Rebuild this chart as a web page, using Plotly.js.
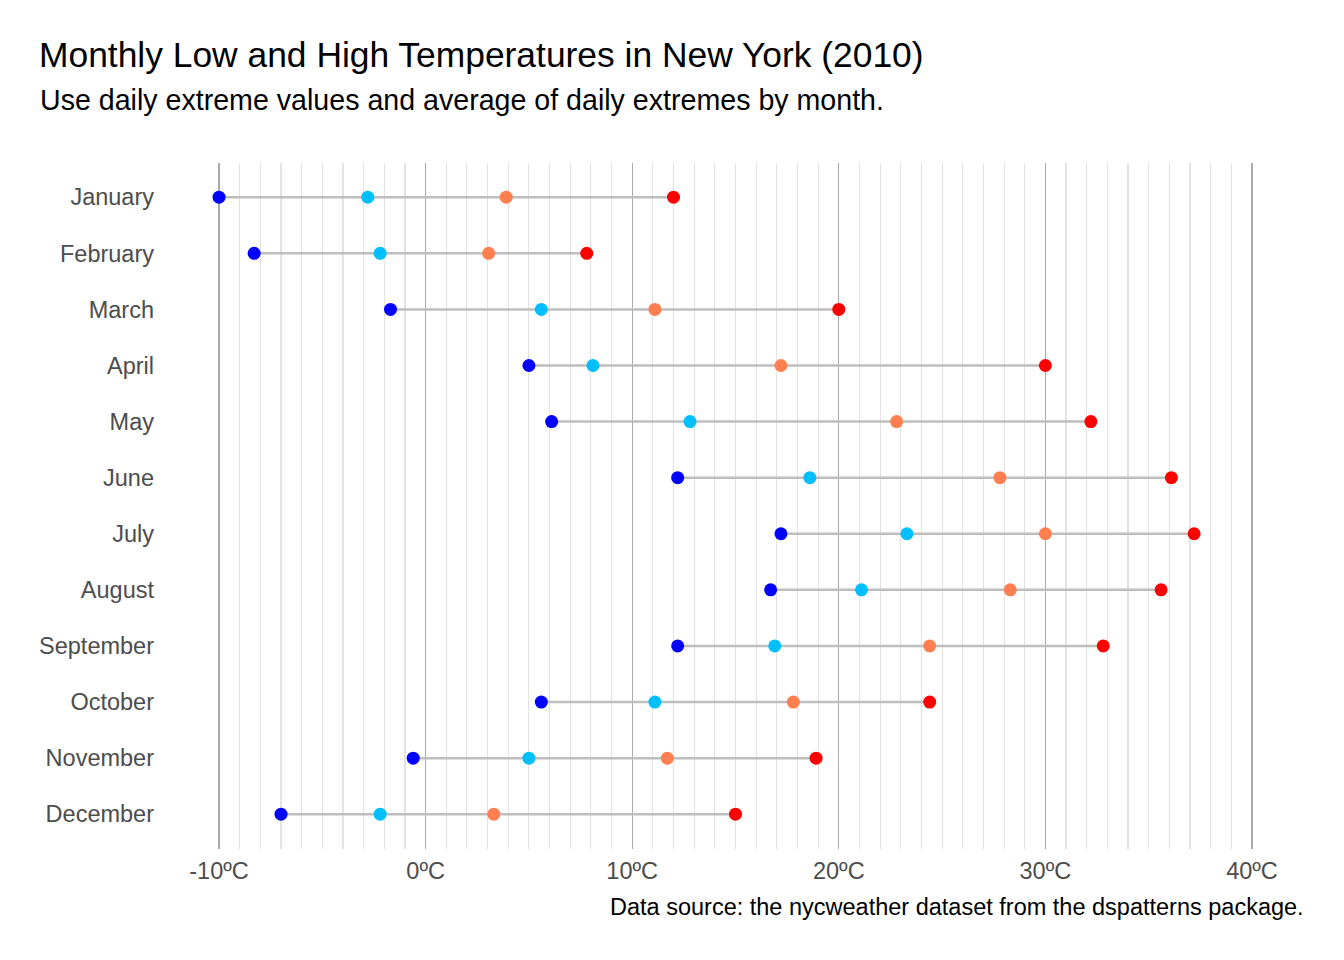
<!DOCTYPE html>
<html>
<head>
<meta charset="utf-8">
<script src="https://cdn.plot.ly/plotly-3.0.1.min.js"></script>
<style>html,body{margin:0;padding:0;background:#fff;}#chart{width:1344px;height:960px;}</style>
</head>
<body>
<div id="chart"></div>
<script>
// Data (°C)
const months = ["January","February","March","April","May","June","July","August","September","October","November","December"];
const recordLow = [-10.0, -8.3, -1.7, 5.0, 6.1, 12.2, 17.2, 16.7, 12.2, 5.6, -0.6, -7.0];
const avgLow    = [-2.8, -2.2, 5.6, 8.1, 12.8, 18.6, 23.3, 21.1, 16.9, 11.1, 5.0, -2.2];
const avgHigh   = [3.9, 3.05, 11.1, 17.2, 22.8, 27.8, 30.0, 28.3, 24.4, 17.8, 11.7, 3.3];
const recordHigh= [12.0, 7.8, 20.0, 30.0, 32.2, 36.1, 37.2, 35.6, 32.8, 24.4, 18.9, 15.0];
const xTickVals = [-10, 0, 10, 20, 30, 40];
const xTickText = ["-10ºC", "0ºC", "10ºC", "20ºC", "30ºC", "40ºC"];

const FONT = "Liberation Sans, Arial, sans-serif";

// segment trace: min to max for each month
const segX = [], segY = [];
months.forEach((m, i) => { segX.push(recordLow[i], recordHigh[i], null); segY.push(m, m, null); });

const dot = (xs, color, name) => ({
  type: "scatter", mode: "markers", x: xs, y: months, name: name,
  marker: {color: color, size: 13, line: {width: 0}}, cliponaxis: false, hoverinfo: "x+y"
});

const traces = [
  {type: "scatter", mode: "lines", x: segX, y: segY, line: {color: "#BEBEBE", width: 2.5},
   cliponaxis: false, hoverinfo: "skip", showlegend: false},
  dot(recordLow, "#0000FF", "Record low"),
  dot(avgLow, "#00BFFF", "Average low"),
  dot(avgHigh, "#FF7F50", "Average high"),
  dot(recordHigh, "#FF0000", "Record high")
];

const L = 218, R = 1253, T = 163, B = 849;
const XMIN = -10.05, XMAX = 40.05;
const px2x = p => (p - L) / (R - L);
const py2y = p => (B - p) / (B - T);

const layout = {
  width: 1344, height: 960,
  margin: {l: L, r: 1344 - R, t: T, b: 960 - B, pad: 0},
  paper_bgcolor: "#FFFFFF", plot_bgcolor: "#FFFFFF",
  showlegend: false,
  font: {family: FONT, color: "#000000"},
  title: {text: "Monthly Low and High Temperatures in New York (2010)",
          font: {family: FONT, size: 35.4, color: "#000000"},
          xref: "container", x: 39 / 1344, xanchor: "left",
          yref: "container", y: 1 - 55 / 960, yanchor: "middle"},
  xaxis: {
    range: [XMIN, XMAX], tickmode: "array", tickvals: xTickVals, ticktext: xTickText,
    showgrid: true, gridcolor: "#ABABAB", gridwidth: 1.1, zeroline: false, showline: false,
    ticks: "", ticklabelstandoff: 5,
    tickfont: {family: FONT, size: 23.5, color: "#4D4D4D"},
    minor: {dtick: 1, tick0: 0, showgrid: true, gridcolor: "#E3E3E3", gridwidth: 1.1, ticks: ""},
    fixedrange: true
  },
  yaxis: {
    type: "category", categoryorder: "array", categoryarray: months,
    range: [11.62, -0.61],
    showgrid: false, zeroline: false, showline: false, ticks: "",
    ticklabelstandoff: 63,
    tickfont: {family: FONT, size: 23.5, color: "#4D4D4D"},
    fixedrange: true
  },
  annotations: [
    {text: "Use daily extreme values and average of daily extremes by month.",
     xref: "paper", yref: "paper", x: px2x(38), y: py2y(100), xanchor: "left", yanchor: "middle",
     showarrow: false, font: {family: FONT, size: 28.6, color: "#000000"}},
    {text: "Data source: the nycweather dataset from the dspatterns package.",
     xref: "paper", yref: "paper", x: px2x(1306), y: py2y(907), xanchor: "right", yanchor: "middle",
     showarrow: false, font: {family: FONT, size: 23.5, color: "#000000"}}
  ]
};

Plotly.newPlot("chart", traces, layout, {displayModeBar: false, staticPlot: true});
</script>
</body>
</html>
